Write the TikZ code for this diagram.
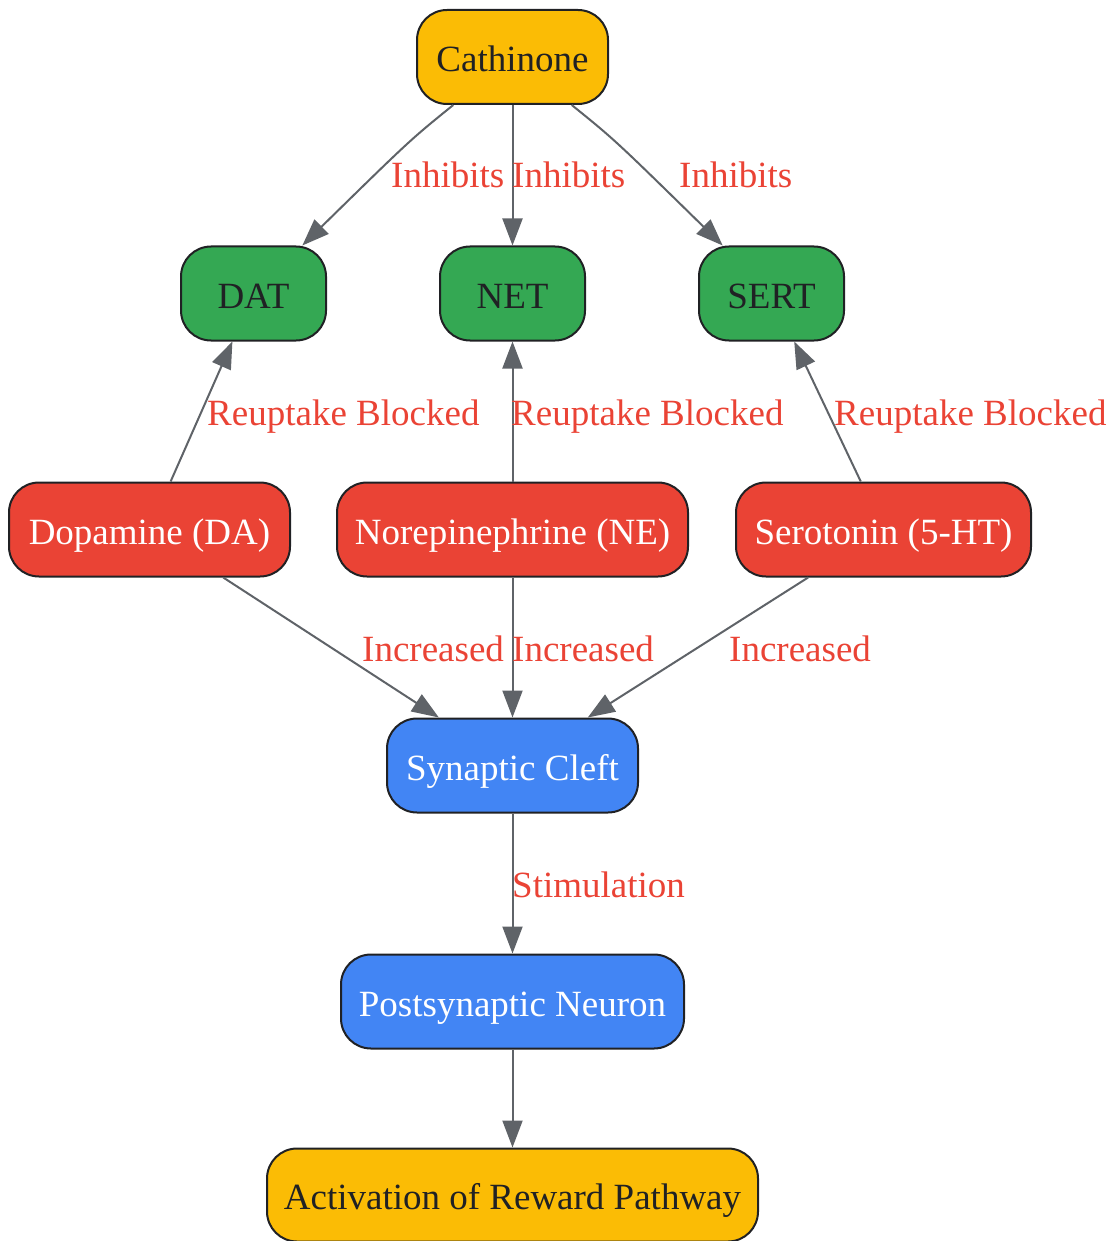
\documentclass[tikz,border=0pt]{standalone}
\usepackage{fontspec}
\setmainfont{Liberation Serif}
\usetikzlibrary{arrows.meta}
\definecolor{gyellow}{HTML}{FBBC05}
\definecolor{ggreen}{HTML}{34A853}
\definecolor{gred}{HTML}{EA4335}
\definecolor{gblue}{HTML}{4285F4}
\definecolor{edgegray}{HTML}{5F6368}
\definecolor{darktext}{HTML}{202124}
\tikzset{
  box/.style={draw=darktext, line width=2pt, rounded corners=30pt, minimum height=94pt,
    inner sep=0pt, text height=29.5pt, text depth=0.5pt, align=center,
    font=\fontsize{37}{44}\selectfont},
  ybox/.style={box, fill=gyellow, text=darktext},
  gbox/.style={box, fill=ggreen, text=darktext},
  rbox/.style={box, fill=gred, text=white},
  bbox/.style={box, fill=gblue, text=white},
  edge/.style={draw=edgegray, line width=2pt, -{Triangle[length=27pt,width=20pt]}},
  elabel/.style={anchor=base west, inner sep=0pt, text=gred, font=\fontsize{37}{44}\selectfont},
}
\begin{document}
\begin{tikzpicture}[x=1pt,y=-1pt]
\useasboundingbox (0,0) rectangle (1112,1241);
% nodes
\node[ybox, minimum width=191pt] (cat) at (512.5,57) {Cathinone};
\node[gbox, minimum width=145pt] (dat) at (253.5,293.5) {DAT};
\node[gbox, minimum width=145pt] (net) at (512.5,293.5) {NET};
\node[gbox, minimum width=145pt] (sert) at (771.5,293.5) {SERT};
\node[rbox, minimum width=281pt] (da) at (149.5,529.5) {Dopamine (DA)};
\node[rbox, minimum width=351pt] (ne) at (512.5,529.5) {Norepinephrine (NE)};
\node[rbox, minimum width=295pt] (ht) at (883.5,529.5) {Serotonin (5-HT)};
\node[bbox, minimum width=251pt] (sc) at (512.5,765.5) {Synaptic Cleft};
\node[bbox, minimum width=343pt] (pn) at (512.5,1001.5) {Postsynaptic Neuron};
\node[ybox, minimum width=491pt, minimum height=93pt] (act) at (512.5,1195) {Activation of Reward Pathway};
% edges
\draw[edge] (cat) .. controls (410,140) .. (dat);
\draw[edge] (cat) -- (net);
\draw[edge] (cat) .. controls (615,140) .. (sert);
\draw[edge] (da) -- (dat);
\draw[edge] (ne) -- (net);
\draw[edge] (ht) -- (sert);
\draw[edge] (da) -- (sc);
\draw[edge] (ne) -- (sc);
\draw[edge] (ht) -- (sc);
\draw[edge] (sc) -- (pn);
\draw[edge] (pn) -- (act);
% labels
\node[elabel] (l1) at (391,188) {Inhibits};
\node[elabel] (l2) at (512,188) {Inhibits};
\node[elabel] (l3) at (679,188) {Inhibits};
\node[elabel] (l4) at (207,425) {Reuptake Blocked};
\node[elabel] (l5) at (511,425) {Reuptake Blocked};
\node[elabel] (l6) at (834,425) {Reuptake Blocked};
\node[elabel] (l7) at (362,661) {Increased};
\node[elabel] (l8) at (512,661) {Increased};
\node[elabel] (l9) at (729,661) {Increased};
\node[elabel] (l10) at (512,897) {Stimulation};
\end{tikzpicture}
\end{document}
